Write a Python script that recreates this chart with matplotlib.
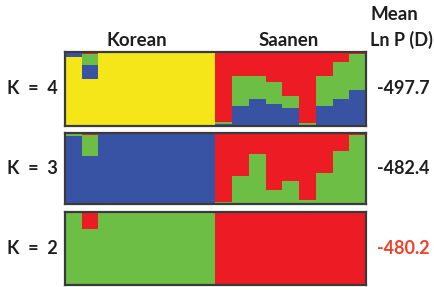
import matplotlib
matplotlib.use("Agg")
import matplotlib.pyplot as plt
import numpy as np

plt.rcParams['font.family'] = ['Lato', 'DejaVu Sans']

# ---- data (ancestry proportions per individual; 9 Korean + 9 Saanen) ----
individuals = ["K1", "K2", "K3", "K4", "K5", "K6", "K7", "K8", "K9",
               "S1", "S2", "S3", "S4", "S5", "S6", "S7", "S8", "S9"]
groups = ["Korean", "Saanen"]

# K = 4 (stack order bottom -> top: yellow, blue, green, red)
k4_yellow = [0.93, 0.64, 1, 1, 1, 1, 1, 1, 1,
             0, 0, 0, 0, 0, 0, 0, 0, 0]
k4_blue = [0.05, 0.18, 0, 0, 0, 0, 0, 0, 0,
           0.03, 0.27, 0.37, 0.30, 0.24, 0.02, 0.27, 0.37, 0.48]
k4_green = [0.02, 0.15, 0, 0, 0, 0, 0, 0, 0,
            0.03, 0.41, 0.31, 0.29, 0.16, 0.02, 0.41, 0.49, 0.49]
k4_red = [0, 0.03, 0, 0, 0, 0, 0, 0, 0,
          0.94, 0.32, 0.32, 0.41, 0.60, 0.96, 0.32, 0.14, 0.03]

# K = 3 (bottom -> top: blue, green, red)
k3_blue = [0.96, 0.67, 1, 1, 1, 1, 1, 1, 1,
           0, 0, 0, 0, 0, 0, 0, 0, 0]
k3_green = [0.04, 0.30, 0, 0, 0, 0, 0, 0, 0,
            0.03, 0.39, 0.71, 0.20, 0.33, 0.05, 0.44, 0.74, 0.97]
k3_red = [0, 0.03, 0, 0, 0, 0, 0, 0, 0,
          0.97, 0.61, 0.29, 0.80, 0.67, 0.95, 0.56, 0.26, 0.03]

# K = 2 (bottom -> top: green, red)
k2_green = [1, 0.77, 1, 1, 1, 1, 1, 1, 1,
            0, 0.01, 0, 0, 0.01, 0, 0.01, 0, 0]
k2_red = [0, 0.23, 0, 0, 0, 0, 0, 0, 0,
          1, 0.99, 1, 1, 0.99, 1, 0.99, 1, 1]

k_labels = ["K = 4", "K = 3", "K = 2"]
lnp_values = ["-497.7", "-482.4", "-480.2"]

# ---- style ----
YELLOW = "#F5E619"
BLUE = "#3853A4"
GREEN = "#6DBE45"
RED = "#ED1C24"
TXT = "#1e1e1e"

W, H = 435, 287
fig = plt.figure(figsize=(W / 100, H / 100), dpi=100)
fig.patch.set_facecolor("white")


def add_panel(top, bottom, left=65, right=366):
    return fig.add_axes([left / W, 1 - bottom / H, (right - left) / W, (bottom - top) / H])


panels = [
    (52, 126, [(k4_yellow, YELLOW), (k4_blue, BLUE), (k4_green, GREEN), (k4_red, RED)]),
    (133, 204, [(k3_blue, BLUE), (k3_green, GREEN), (k3_red, RED)]),
    (212, 285, [(k2_green, GREEN), (k2_red, RED)]),
]
label_y = [89, 168, 248]

x = np.arange(len(individuals))
for (top, bottom, layers), klab, val, ly in zip(panels, k_labels, lnp_values, label_y):
    ax = add_panel(top, bottom)
    base = np.zeros(len(individuals))
    for vals, col in layers:
        v = np.array(vals, dtype=float)
        ax.bar(x, v, width=1.0, bottom=base, align="edge", color=col,
               edgecolor="none", linewidth=0)
        base = base + v
    ax.set_xlim(0, len(individuals))
    ax.set_ylim(0, 1)
    ax.set_xticks([])
    ax.set_yticks([])
    for s in ax.spines.values():
        s.set_color("#3a3a3a")
        s.set_linewidth(1.6)
    yc = 1 - ly / H
    fig.text(7 / W, yc, klab.replace(" = ", "  =  "), ha="left", va="center", fontsize=13,
             fontweight="bold", color=TXT)
    fig.text(377 / W, yc, val, ha="left", va="center", fontsize=13,
             fontweight="bold", color=("#F0402A" if klab == "K = 2" else TXT))

fig.text(137 / W, 1 - 40 / H, groups[0], ha="center", va="center",
         fontsize=13.5, fontweight="bold", color=TXT)
fig.text(289 / W, 1 - 40 / H, groups[1], ha="center", va="center",
         fontsize=13.5, fontweight="bold", color=TXT)
fig.text(371 / W, 1 - 14 / H, "Mean", ha="left", va="center",
         fontsize=13.5, fontweight="bold", color=TXT)
fig.text(370 / W, 1 - 40 / H, "Ln P (D)", ha="left", va="center",
         fontsize=13, fontweight="bold", color=TXT)

fig.savefig("out.png", dpi=100)
